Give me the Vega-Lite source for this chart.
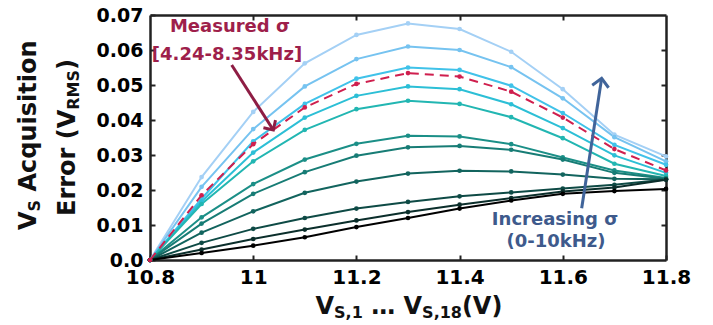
{
  "$schema": "https://vega.github.io/schema/vega-lite/v6.json",
  "width": 516,
  "height": 245,
  "autosize": {"type": "none"},
  "padding": {"left": 150, "top": 15, "right": 47, "bottom": 65},
  "background": "white",
  "config": {"view": {"stroke": null}, "font": "DejaVu Sans", "axis": {"grid": false, "domain": true, "ticks": true, "domainColor": "#222", "domainWidth": 2.5, "tickColor": "#222", "tickWidth": 2}},
  "datasets": {
    "series": [
      {"v": 10.8, "err": 0, "sigma": 10}, {"v": 10.9, "err": 0.0237, "sigma": 10}, {"v": 11.0, "err": 0.0423, "sigma": 10}, {"v": 11.1, "err": 0.0562, "sigma": 10}, {"v": 11.2, "err": 0.0643, "sigma": 10}, {"v": 11.3, "err": 0.0676, "sigma": 10}, {"v": 11.4, "err": 0.0660, "sigma": 10}, {"v": 11.5, "err": 0.0595, "sigma": 10}, {"v": 11.6, "err": 0.0488, "sigma": 10}, {"v": 11.7, "err": 0.0358, "sigma": 10}, {"v": 11.8, "err": 0.0296, "sigma": 10},
      {"v": 10.8, "err": 0, "sigma": 9}, {"v": 10.9, "err": 0.0209, "sigma": 9}, {"v": 11.0, "err": 0.0374, "sigma": 9}, {"v": 11.1, "err": 0.0496, "sigma": 9}, {"v": 11.2, "err": 0.0574, "sigma": 9}, {"v": 11.3, "err": 0.0610, "sigma": 9}, {"v": 11.4, "err": 0.0600, "sigma": 9}, {"v": 11.5, "err": 0.0551, "sigma": 9}, {"v": 11.6, "err": 0.0462, "sigma": 9}, {"v": 11.7, "err": 0.0351, "sigma": 9}, {"v": 11.8, "err": 0.0282, "sigma": 9},
      {"v": 10.8, "err": 0, "sigma": 8}, {"v": 10.9, "err": 0.0175, "sigma": 8}, {"v": 11.0, "err": 0.0339, "sigma": 8}, {"v": 11.1, "err": 0.0446, "sigma": 8}, {"v": 11.2, "err": 0.0518, "sigma": 8}, {"v": 11.3, "err": 0.0550, "sigma": 8}, {"v": 11.4, "err": 0.0543, "sigma": 8}, {"v": 11.5, "err": 0.0498, "sigma": 8}, {"v": 11.6, "err": 0.0420, "sigma": 8}, {"v": 11.7, "err": 0.0329, "sigma": 8}, {"v": 11.8, "err": 0.0272, "sigma": 8},
      {"v": 10.8, "err": 0, "sigma": 7}, {"v": 10.9, "err": 0.0167, "sigma": 7}, {"v": 11.0, "err": 0.0307, "sigma": 7}, {"v": 11.1, "err": 0.0407, "sigma": 7}, {"v": 11.2, "err": 0.0469, "sigma": 7}, {"v": 11.3, "err": 0.0496, "sigma": 7}, {"v": 11.4, "err": 0.0488, "sigma": 7}, {"v": 11.5, "err": 0.0445, "sigma": 7}, {"v": 11.6, "err": 0.0377, "sigma": 7}, {"v": 11.7, "err": 0.0299, "sigma": 7}, {"v": 11.8, "err": 0.0249, "sigma": 7},
      {"v": 10.8, "err": 0, "sigma": 6}, {"v": 10.9, "err": 0.0160, "sigma": 6}, {"v": 11.0, "err": 0.0282, "sigma": 6}, {"v": 11.1, "err": 0.0372, "sigma": 6}, {"v": 11.2, "err": 0.0431, "sigma": 6}, {"v": 11.3, "err": 0.0455, "sigma": 6}, {"v": 11.4, "err": 0.0446, "sigma": 6}, {"v": 11.5, "err": 0.0408, "sigma": 6}, {"v": 11.6, "err": 0.0348, "sigma": 6}, {"v": 11.7, "err": 0.0275, "sigma": 6}, {"v": 11.8, "err": 0.0240, "sigma": 6},
      {"v": 10.8, "err": 0, "sigma": 5}, {"v": 10.9, "err": 0.0122, "sigma": 5}, {"v": 11.0, "err": 0.0217, "sigma": 5}, {"v": 11.1, "err": 0.0287, "sigma": 5}, {"v": 11.2, "err": 0.0332, "sigma": 5}, {"v": 11.3, "err": 0.0355, "sigma": 5}, {"v": 11.4, "err": 0.0353, "sigma": 5}, {"v": 11.5, "err": 0.0331, "sigma": 5}, {"v": 11.6, "err": 0.0293, "sigma": 5}, {"v": 11.7, "err": 0.0256, "sigma": 5}, {"v": 11.8, "err": 0.0234, "sigma": 5},
      {"v": 10.8, "err": 0, "sigma": 4}, {"v": 10.9, "err": 0.0104, "sigma": 4}, {"v": 11.0, "err": 0.0189, "sigma": 4}, {"v": 11.1, "err": 0.0251, "sigma": 4}, {"v": 11.2, "err": 0.0298, "sigma": 4}, {"v": 11.3, "err": 0.0322, "sigma": 4}, {"v": 11.4, "err": 0.0326, "sigma": 4}, {"v": 11.5, "err": 0.0315, "sigma": 4}, {"v": 11.6, "err": 0.0287, "sigma": 4}, {"v": 11.7, "err": 0.0249, "sigma": 4}, {"v": 11.8, "err": 0.0232, "sigma": 4},
      {"v": 10.8, "err": 0, "sigma": 3}, {"v": 10.9, "err": 0.0078, "sigma": 3}, {"v": 11.0, "err": 0.0139, "sigma": 3}, {"v": 11.1, "err": 0.0192, "sigma": 3}, {"v": 11.2, "err": 0.0224, "sigma": 3}, {"v": 11.3, "err": 0.0247, "sigma": 3}, {"v": 11.4, "err": 0.0255, "sigma": 3}, {"v": 11.5, "err": 0.0253, "sigma": 3}, {"v": 11.6, "err": 0.0244, "sigma": 3}, {"v": 11.7, "err": 0.0232, "sigma": 3}, {"v": 11.8, "err": 0.0231, "sigma": 3},
      {"v": 10.8, "err": 0, "sigma": 2}, {"v": 10.9, "err": 0.0049, "sigma": 2}, {"v": 11.0, "err": 0.0089, "sigma": 2}, {"v": 11.1, "err": 0.0120, "sigma": 2}, {"v": 11.2, "err": 0.0147, "sigma": 2}, {"v": 11.3, "err": 0.0166, "sigma": 2}, {"v": 11.4, "err": 0.0182, "sigma": 2}, {"v": 11.5, "err": 0.0193, "sigma": 2}, {"v": 11.6, "err": 0.0204, "sigma": 2}, {"v": 11.7, "err": 0.0215, "sigma": 2}, {"v": 11.8, "err": 0.0230, "sigma": 2},
      {"v": 10.8, "err": 0, "sigma": 1}, {"v": 10.9, "err": 0.0030, "sigma": 1}, {"v": 11.0, "err": 0.0060, "sigma": 1}, {"v": 11.1, "err": 0.0087, "sigma": 1}, {"v": 11.2, "err": 0.0113, "sigma": 1}, {"v": 11.3, "err": 0.0137, "sigma": 1}, {"v": 11.4, "err": 0.0158, "sigma": 1}, {"v": 11.5, "err": 0.0177, "sigma": 1}, {"v": 11.6, "err": 0.0196, "sigma": 1}, {"v": 11.7, "err": 0.0207, "sigma": 1}, {"v": 11.8, "err": 0.0229, "sigma": 1},
      {"v": 10.8, "err": 0, "sigma": 0}, {"v": 10.9, "err": 0.0020, "sigma": 0}, {"v": 11.0, "err": 0.0041, "sigma": 0}, {"v": 11.1, "err": 0.0065, "sigma": 0}, {"v": 11.2, "err": 0.0094, "sigma": 0}, {"v": 11.3, "err": 0.0120, "sigma": 0}, {"v": 11.4, "err": 0.0147, "sigma": 0}, {"v": 11.5, "err": 0.0170, "sigma": 0}, {"v": 11.6, "err": 0.0189, "sigma": 0}, {"v": 11.7, "err": 0.0197, "sigma": 0}, {"v": 11.8, "err": 0.0203, "sigma": 0}
    ],
    "measured": [
      {"v": 10.8, "err": 0}, {"v": 10.9, "err": 0.0185}, {"v": 11.0, "err": 0.0331}, {"v": 11.1, "err": 0.0436}, {"v": 11.2, "err": 0.0503}, {"v": 11.3, "err": 0.0534}, {"v": 11.4, "err": 0.0524}, {"v": 11.5, "err": 0.0481}, {"v": 11.6, "err": 0.0407}, {"v": 11.7, "err": 0.0317}, {"v": 11.8, "err": 0.0256}
    ],
    "one": [{}]
  },
  "resolve": {"axis": {"x": "independent", "y": "independent"}},
  "layer": [
    {
      "data": {"name": "series"},
      "mark": {"type": "line", "strokeWidth": 2, "point": {"filled": true, "size": 22}},
      "encoding": {
        "x": {"field": "v", "type": "quantitative", "scale": {"domain": [10.8, 11.8], "nice": false, "zero": false},
          "axis": {"orient": "bottom", "values": [10.8, 11, 11.2, 11.4, 11.6, 11.8], "format": "~f", "title": null, "domain": true, "ticks": true, "tickSize": -5, "labelFont": "DejaVu Sans", "labelFontWeight": "bold", "labelFontSize": 20, "labelColor": "black", "labelPadding": 12, "labelFlush": false, "labelOverlap": false}},
        "y": {"field": "err", "type": "quantitative", "scale": {"domain": [0, 0.07], "nice": false, "zero": false},
          "axis": {"orient": "left", "values": [0, 0.01, 0.02, 0.03, 0.04, 0.05, 0.06, 0.07], "labelExpr": "datum.value == 0 ? '0.0' : format(datum.value, '.2f')", "title": null, "domain": true, "ticks": true, "tickSize": -5, "labelFont": "DejaVu Sans", "labelFontWeight": "bold", "labelFontSize": 19, "labelColor": "black", "labelPadding": 12, "labelFlush": false, "labelOverlap": false}},
        "color": {"field": "sigma", "type": "ordinal", "legend": null,
          "scale": {"domain": [0, 1, 2, 3, 4, 5, 6, 7, 8, 9, 10], "range": ["#000000", "#0b2e2b", "#0e4a45", "#12645e", "#177c75", "#1b8f87", "#22b6b2", "#2cbfd6", "#40c2e9", "#76c3f0", "#a4d0f5"]}}
      }
    },
    {
      "data": {"name": "measured"},
      "mark": {"type": "line", "strokeWidth": 2, "color": "#cf1f4e", "strokeDash": [9, 6], "point": {"filled": true, "size": 22, "color": "#cf1f4e"}},
      "encoding": {
        "x": {"field": "v", "type": "quantitative", "scale": {"domain": [10.8, 11.8], "nice": false, "zero": false},
          "axis": {"orient": "top", "values": [11, 11.2, 11.4, 11.6], "labels": false, "title": null, "domain": true, "ticks": true, "tickSize": -5}},
        "y": {"field": "err", "type": "quantitative", "scale": {"domain": [0, 0.07], "nice": false, "zero": false},
          "axis": {"orient": "right", "values": [0.01, 0.02, 0.03, 0.04, 0.05, 0.06], "labels": false, "title": null, "domain": true, "ticks": true, "tickSize": -5}}
      }
    },
    {
      "data": {"name": "one"},
      "mark": {"type": "rule", "color": "#8e1d44", "strokeWidth": 3},
      "encoding": {
        "x": {"datum": 10.9583, "type": "quantitative", "axis": null}, "y": {"datum": 0.05571, "type": "quantitative", "axis": null},
        "x2": {"datum": 11.0390}, "y2": {"datum": 0.03714}
      }
    },
    {
      "data": {"name": "one"},
      "mark": {"type": "point", "shape": "M -0.7 0.7 L 0 0 L 0.7 0.7", "filled": false, "size": 420, "strokeWidth": 3, "angle": 147.4, "color": "#8e1d44", "opacity": 1},
      "encoding": {"x": {"datum": 11.0390, "type": "quantitative", "axis": null}, "y": {"datum": 0.03714, "type": "quantitative", "axis": null}}
    },
    {
      "data": {"name": "one"},
      "mark": {"type": "rule", "color": "#40649a", "strokeWidth": 3},
      "encoding": {
        "x": {"datum": 11.6366, "type": "quantitative", "axis": null}, "y": {"datum": 0.01477, "type": "quantitative", "axis": null},
        "x2": {"datum": 11.6753}, "y2": {"datum": 0.05191}
      }
    },
    {
      "data": {"name": "one"},
      "mark": {"type": "point", "shape": "M -0.7 0.7 L 0 0 L 0.7 0.7", "filled": false, "size": 560, "strokeWidth": 3, "angle": 8.7, "color": "#40649a", "opacity": 1},
      "encoding": {"x": {"datum": 11.6753, "type": "quantitative", "axis": null}, "y": {"datum": 0.05191, "type": "quantitative", "axis": null}}
    },
    {
      "data": {"name": "one"},
      "mark": {"type": "text", "text": "Measured σ", "font": "DejaVu Sans", "fontWeight": "bold", "fontSize": 18, "color": "#9e1f4b", "align": "center", "baseline": "middle"},
      "encoding": {"x": {"datum": 10.955, "type": "quantitative", "axis": null}, "y": {"datum": 0.06657, "type": "quantitative", "axis": null}}
    },
    {
      "data": {"name": "one"},
      "mark": {"type": "text", "text": "[4.24-8.35kHz]", "font": "DejaVu Sans", "fontWeight": "bold", "fontSize": 18, "color": "#9e1f4b", "align": "center", "baseline": "middle"},
      "encoding": {"x": {"datum": 10.9492, "type": "quantitative", "axis": null}, "y": {"datum": 0.05857, "type": "quantitative", "axis": null}}
    },
    {
      "data": {"name": "one"},
      "mark": {"type": "text", "text": "Increasing σ", "font": "DejaVu Sans", "fontWeight": "bold", "fontSize": 18, "color": "#3e5a8c", "align": "center", "baseline": "middle"},
      "encoding": {"x": {"datum": 11.5849, "type": "quantitative", "axis": null}, "y": {"datum": 0.01143, "type": "quantitative", "axis": null}}
    },
    {
      "data": {"name": "one"},
      "mark": {"type": "text", "text": "(0-10kHz)", "font": "DejaVu Sans", "fontWeight": "bold", "fontSize": 18, "color": "#3e5a8c", "align": "center", "baseline": "middle"},
      "encoding": {"x": {"datum": 11.5868, "type": "quantitative", "axis": null}, "y": {"datum": 0.00514, "type": "quantitative", "axis": null}}
    },
    {
      "data": {"name": "one"},
      "mark": {"type": "text", "text": "V", "font": "DejaVu Sans", "fontWeight": "bold", "fontSize": 24, "color": "#111", "angle": 270, "align": "left", "baseline": "alphabetic"},
      "encoding": {"x": {"datum": 10.5790, "type": "quantitative", "axis": null}, "y": {"datum": 0.008571, "type": "quantitative", "axis": null}}
    },
    {
      "data": {"name": "one"},
      "mark": {"type": "text", "text": "S", "font": "DejaVu Sans", "fontWeight": "bold", "fontSize": 16, "color": "#111", "angle": 270, "align": "left", "baseline": "alphabetic"},
      "encoding": {"x": {"datum": 10.5868, "type": "quantitative", "axis": null}, "y": {"datum": 0.013886, "type": "quantitative", "axis": null}}
    },
    {
      "data": {"name": "one"},
      "mark": {"type": "text", "text": "Acquisition", "font": "DejaVu Sans", "fontWeight": "bold", "fontSize": 24, "color": "#111", "angle": 270, "align": "left", "baseline": "alphabetic"},
      "encoding": {"x": {"datum": 10.5790, "type": "quantitative", "axis": null}, "y": {"datum": 0.019571, "type": "quantitative", "axis": null}}
    },
    {
      "data": {"name": "one"},
      "mark": {"type": "text", "text": "Error (V", "font": "DejaVu Sans", "fontWeight": "bold", "fontSize": 24, "color": "#111", "angle": 270, "align": "left", "baseline": "alphabetic"},
      "encoding": {"x": {"datum": 10.6547, "type": "quantitative", "axis": null}, "y": {"datum": 0.012571, "type": "quantitative", "axis": null}}
    },
    {
      "data": {"name": "one"},
      "mark": {"type": "text", "text": "RMS", "font": "DejaVu Sans", "fontWeight": "bold", "fontSize": 16, "color": "#111", "angle": 270, "align": "left", "baseline": "alphabetic"},
      "encoding": {"x": {"datum": 10.6624, "type": "quantitative", "axis": null}, "y": {"datum": 0.042943, "type": "quantitative", "axis": null}}
    },
    {
      "data": {"name": "one"},
      "mark": {"type": "text", "text": ")", "font": "DejaVu Sans", "fontWeight": "bold", "fontSize": 24, "color": "#111", "angle": 270, "align": "left", "baseline": "alphabetic"},
      "encoding": {"x": {"datum": 10.6547, "type": "quantitative", "axis": null}, "y": {"datum": 0.054314, "type": "quantitative", "axis": null}}
    },
    {
      "data": {"name": "one"},
      "mark": {"type": "text", "text": "V", "font": "DejaVu Sans", "fontWeight": "bold", "fontSize": 24, "color": "#111", "align": "left", "baseline": "alphabetic"},
      "encoding": {"x": {"datum": 11.12074, "type": "quantitative", "axis": null}, "y": {"datum": -0.015429, "type": "quantitative", "axis": null}}
    },
    {
      "data": {"name": "one"},
      "mark": {"type": "text", "text": "S,1", "font": "DejaVu Sans", "fontWeight": "bold", "fontSize": 16, "color": "#111", "align": "left", "baseline": "alphabetic"},
      "encoding": {"x": {"datum": 11.15678, "type": "quantitative", "axis": null}, "y": {"datum": -0.016571, "type": "quantitative", "axis": null}}
    },
    {
      "data": {"name": "one"},
      "mark": {"type": "text", "text": "… V", "font": "DejaVu Sans", "fontWeight": "bold", "fontSize": 24, "color": "#111", "align": "left", "baseline": "alphabetic"},
      "encoding": {"x": {"datum": 11.22868, "type": "quantitative", "axis": null}, "y": {"datum": -0.015429, "type": "quantitative", "axis": null}}
    },
    {
      "data": {"name": "one"},
      "mark": {"type": "text", "text": "S,18", "font": "DejaVu Sans", "fontWeight": "bold", "fontSize": 16, "color": "#111", "align": "left", "baseline": "alphabetic"},
      "encoding": {"x": {"datum": 11.32733, "type": "quantitative", "axis": null}, "y": {"datum": -0.016571, "type": "quantitative", "axis": null}}
    },
    {
      "data": {"name": "one"},
      "mark": {"type": "text", "text": "(V)", "font": "DejaVu Sans", "fontWeight": "bold", "fontSize": 24, "color": "#111", "align": "left", "baseline": "alphabetic"},
      "encoding": {"x": {"datum": 11.40446, "type": "quantitative", "axis": null}, "y": {"datum": -0.015429, "type": "quantitative", "axis": null}}
    }
  ]
}
